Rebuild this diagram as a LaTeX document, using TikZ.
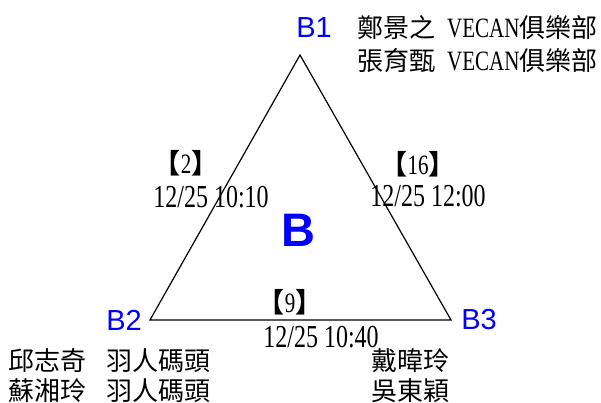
\documentclass[tikz,border=0pt]{standalone}
\usepackage{fontspec}
\setmainfont{Liberation Serif}[FakeStretch=0.75]
\newfontfamily\cjk{Noto Sans CJK TC}
\newfontfamily\labfont{Liberation Sans}
\newcommand{\zh}[1]{{\cjk\fontsize{26}{26}\selectfont #1}}
\newcommand{\brk}[1]{{\cjk\bfseries\fontsize{27}{27}\selectfont #1}}
\begin{document}
\begin{tikzpicture}[x=1pt,y=-1pt,
  vertex/.style={text=blue,font=\labfont\fontsize{29}{29}\selectfont,inner sep=0pt},
  tag/.style={font=\fontsize{28}{28}\selectfont,inner sep=0pt},
  when/.style={font=\fontsize{32}{32}\selectfont,inner sep=0pt},
  names/.style={anchor=west,align=left,inner sep=0pt}]
\useasboundingbox (0,0) rectangle (601,403);

\coordinate (b1) at (300,55);
\coordinate (b2) at (150,320);
\coordinate (b3) at (451,320);
\draw[line width=1.2pt,line join=miter] (b1) -- (b2) -- (b3) -- cycle;

\node[vertex] (b1lab) at (314,28) {B1};
\node[vertex] (b2lab) at (124,320) {B2};
\node[vertex] (b3lab) at (479,320) {B3};
\node[text=blue,font=\labfont\bfseries\fontsize{47}{47}\selectfont,inner sep=0pt] (pool) at (298,230) {B};

\node[tag] (g12) at (186,163) {\brk{【}2\brk{】}};
\node[when] (t12) at (211,197) {12/25 10:10};
\node[tag] (g13) at (418,164) {\brk{【}16\brk{】}};
\node[when] (t13) at (428,196) {12/25 12:00};
\node[tag] (g23) at (290,302) {\brk{【}9\brk{】}};
\node[when] (t23) at (321,337) {12/25 10:40};

\node[names,font=\fontsize{28}{33}\selectfont] (team1) at (357,44)
  {\zh{鄭景之}\hspace{12pt}VECAN\zh{俱樂部}\\ \zh{張育甄}\hspace{12pt}VECAN\zh{俱樂部}};
\node[names,font=\fontsize{26}{30}\selectfont] (team2) at (8,376)
  {\zh{邱志奇}\hspace{20pt}\zh{羽人碼頭}\\ \zh{蘇湘玲}\hspace{20pt}\zh{羽人碼頭}};
\node[names,font=\fontsize{26}{30}\selectfont] (team3) at (371,376)
  {\zh{戴暐玲}\\ \zh{吳東穎}};
\end{tikzpicture}
\end{document}
